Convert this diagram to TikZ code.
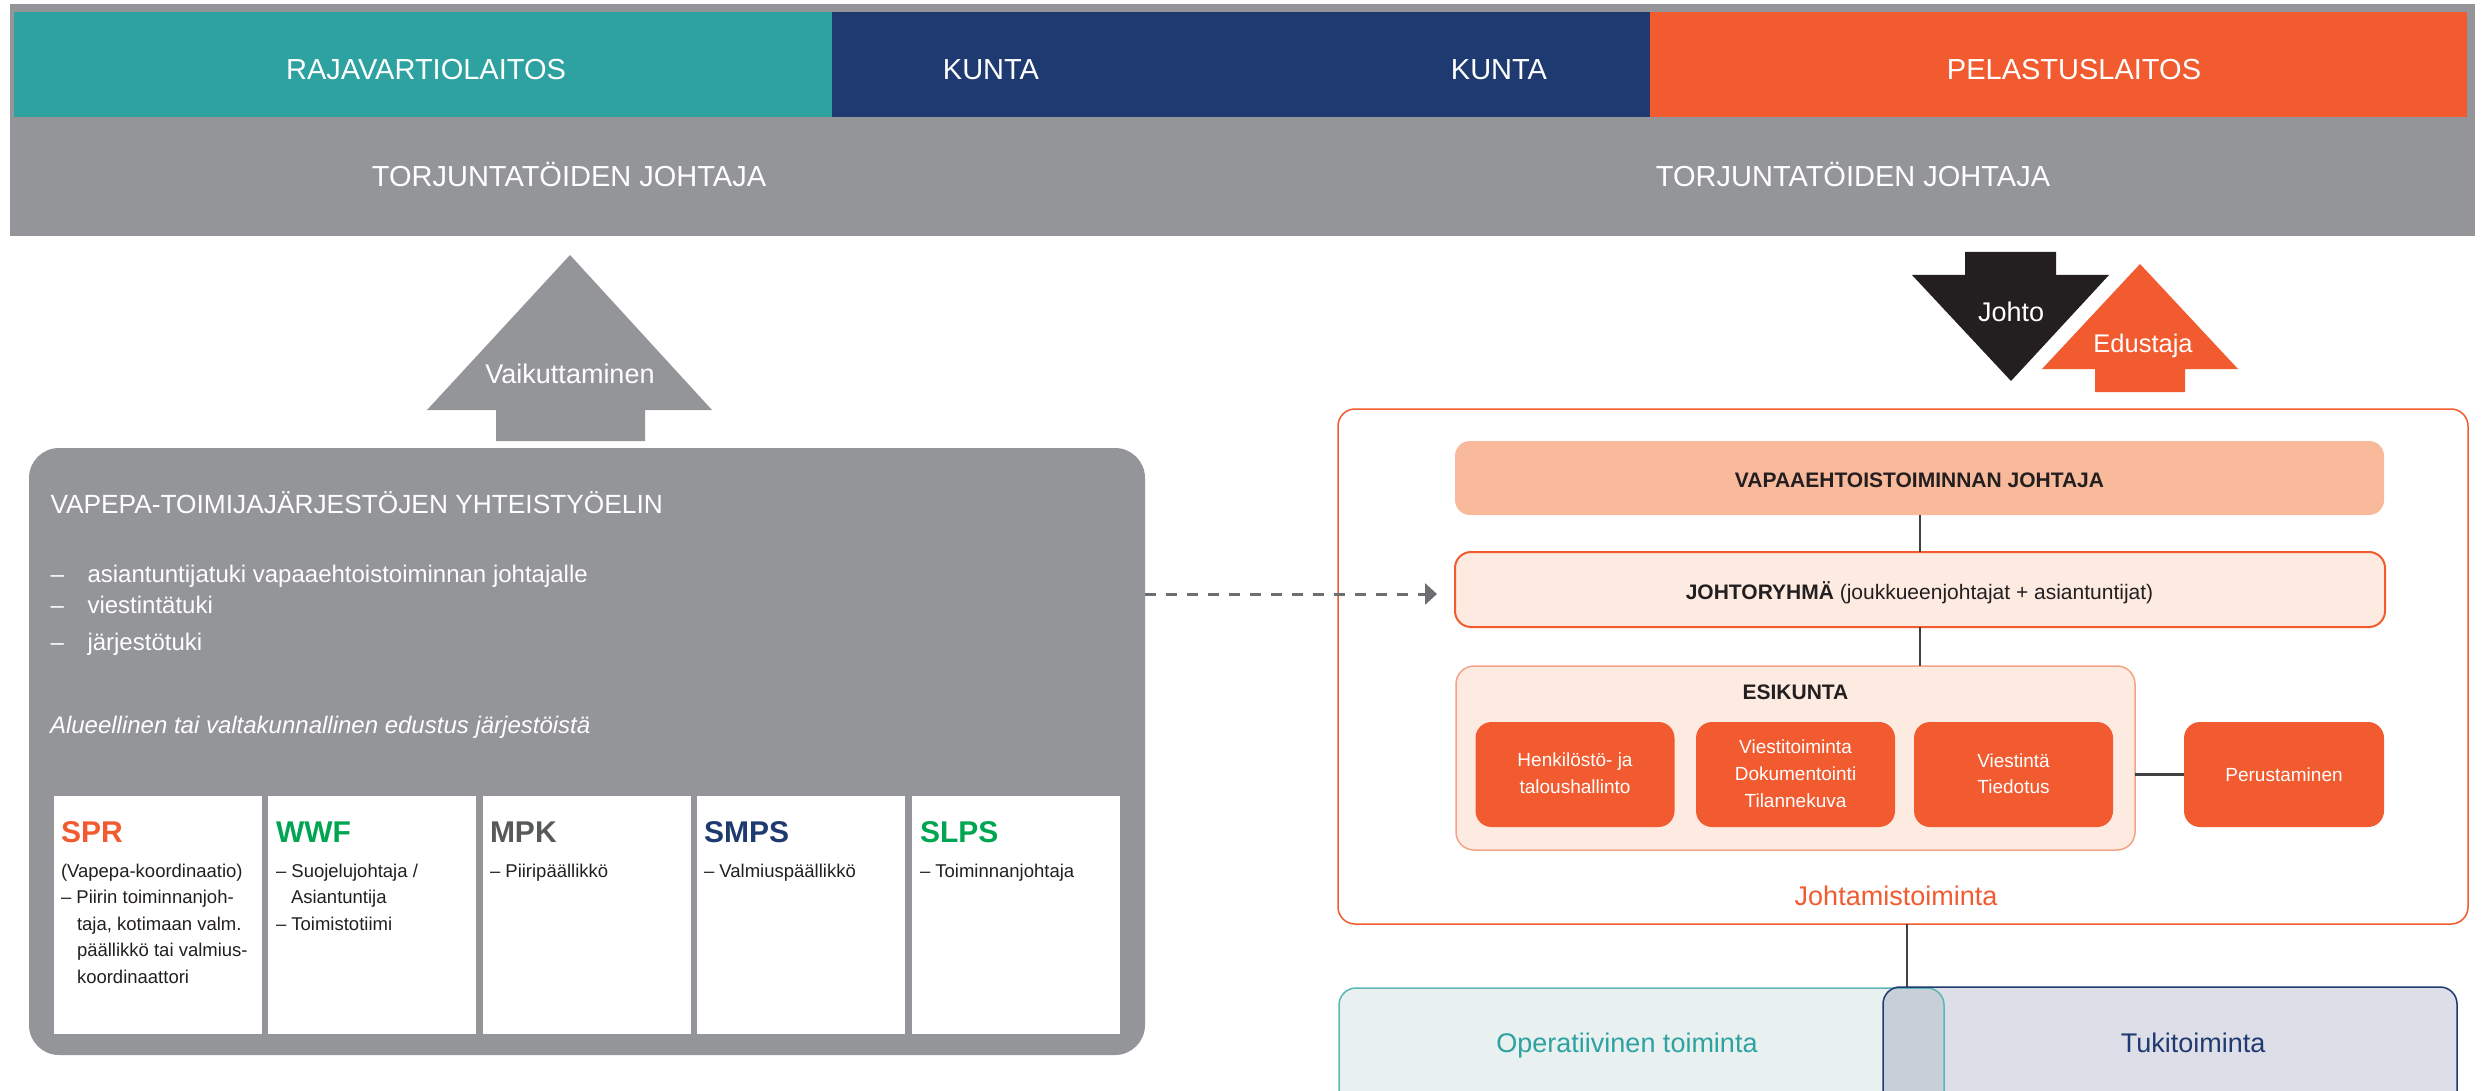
\documentclass[tikz,border=0pt]{standalone}
\usepackage{fontspec}
\setmainfont{Liberation Sans}
\usetikzlibrary{arrows.meta,calc}
\definecolor{cTeal}{HTML}{2EA1A1}
\definecolor{cBlue}{HTML}{1E3A70}
\definecolor{cOrange}{HTML}{F15B2F}
\definecolor{cGray}{HTML}{949599}
\definecolor{cBlack}{HTML}{231F20}
\definecolor{cPeach}{HTML}{F9B99B}
\definecolor{cLight}{HTML}{FDEBE1}
\definecolor{cOpFill}{HTML}{E8F1F0}
\definecolor{cOpLine}{HTML}{5CB6B4}
\definecolor{cTukiFill}{HTML}{DDDEE8}
\definecolor{cOverlap}{HTML}{C8CFD9}
\definecolor{cGreen}{HTML}{00A551}
\definecolor{cDark}{HTML}{58595B}
\definecolor{cDash}{HTML}{6D6E71}
\definecolor{cLine}{HTML}{414042}
\definecolor{cEsiLine}{HTML}{F4A486}
\newcommand\myfs[1]{\fontsize{#1}{#1}\selectfont}
\begin{document}
\begin{tikzpicture}[x=1pt,y=-1pt,
  every node/.style={inner sep=0pt,outer sep=0pt},
  ctxt/.style={anchor=base,text=white},
  ltxt/.style={anchor=base west,text=white},
  btxt/.style={anchor=base west,text=cBlack,font=\myfs{18.5}},
  ttl/.style={anchor=base west,font=\myfs{30}\bfseries},
  wbox/.style={fill=white,minimum width=208pt,minimum height=238pt},
  obox/.style={fill=cOrange,rounded corners=16pt,minimum width=199pt,minimum height=105pt},
  otxt/.style={anchor=base,text=white,font=\myfs{19}},
  conn/.style={draw=cLine,line width=1.5pt},
  dasharr/.style={draw=cDash,line width=3pt,dash pattern=on 11pt off 10pt,-{Triangle[length=12pt,width=21pt]}}
]
\useasboundingbox (0,0) rectangle (2491,1091);
\clip (0,0) rectangle (2491,1091);
\fill[white] (0,0) rectangle (2491,1091);

% top band
\node[fill=cGray,minimum width=2465pt,minimum height=232pt] (band) at (1242.5,120) {};
\node[fill=cTeal,minimum width=818pt,minimum height=105pt] (raja) at (423,64.5) {};
\node[fill=cBlue,minimum width=818pt,minimum height=105pt] (kunta) at (1241,64.5) {};
\node[fill=cOrange,minimum width=817pt,minimum height=105pt] (pela) at (2058.5,64.5) {};
\node[ctxt,font=\myfs{29}] (tRaja) at (426,79.5) {RAJAVARTIOLAITOS};
\node[ctxt,font=\myfs{29}] (tKunta1) at (991,79.5) {KUNTA};
\node[ctxt,font=\myfs{29}] (tKunta2) at (1499,79.5) {KUNTA};
\node[ctxt,font=\myfs{29}] (tPela) at (2074,79.5) {PELASTUSLAITOS};
\node[ctxt,font=\myfs{29}] (tTorj1) at (569,186.5) {TORJUNTATÖIDEN JOHTAJA};
\node[ctxt,font=\myfs{29}] (tTorj2) at (1853,186.5) {TORJUNTATÖIDEN JOHTAJA};

% Vaikuttaminen arrow
\fill[cGray] (570,255) -- (712,410) -- (645,410) -- (645,441) -- (496,441) -- (496,410) -- (427,410) -- cycle;
\node[ctxt,font=\myfs{27}] (tVaik) at (570,383) {Vaikuttaminen};

% Johto / Edustaja arrows
\fill[cBlack] (1965,252) -- (2056,252) -- (2056,275) -- (2109,275) -- (2011,381) -- (1912,275) -- (1965,275) -- cycle;
\node[ctxt,font=\myfs{27}] (tJohto) at (2011,321) {Johto};
\fill[cOrange] (2140,264) -- (2238,369) -- (2185,369) -- (2185,392) -- (2095,392) -- (2095,369) -- (2042,369) -- cycle;
\node[ctxt,font=\myfs{25.5}] (tEdus) at (2143,352) {Edustaja};

% VAPEPA box
\node[fill=cGray,rounded corners=30pt,minimum width=1116pt,minimum height=607pt] (vapepa) at (587,751.5) {};
\node[ltxt,font=\myfs{26.3}] (tVapepa) at (50.5,513.3) {VAPEPA-TOIMIJAJÄRJESTÖJEN YHTEISTYÖELIN};
\node[ltxt,font=\myfs{24}] (d1) at (50.5,582) {–};
\node[ltxt,font=\myfs{24}] (b1) at (87.5,582) {asiantuntijatuki vapaaehtoistoiminnan johtajalle};
\node[ltxt,font=\myfs{24}] (d2) at (50.5,613.3) {–};
\node[ltxt,font=\myfs{24}] (b2) at (87.5,613.3) {viestintätuki};
\node[ltxt,font=\myfs{24}] (d3) at (50.5,650.7) {–};
\node[ltxt,font=\myfs{24}] (b3) at (87.5,650.7) {järjestötuki};
\node[ltxt,font=\myfs{24}\itshape] (tAlue) at (50,733) {Alueellinen tai valtakunnallinen edustus järjestöistä};

% organisation boxes
\node[wbox] (bSPR) at (158,915) {};
\node[wbox] (bWWF) at (372,915) {};
\node[wbox] (bMPK) at (587,915) {};
\node[wbox] (bSMPS) at (801,915) {};
\node[wbox] (bSLPS) at (1016,915) {};
\node[ttl,text=cOrange] (tSPR) at (61,842) {SPR};
\node[ttl,text=cGreen] (tWWF) at (276,842) {WWF};
\node[ttl,text=cDark] (tMPK) at (490,842) {MPK};
\node[ttl,text=cBlue] (tSMPS) at (704,842) {SMPS};
\node[ttl,text=cGreen] (tSLPS) at (920,842) {SLPS};
\node[btxt] (s1) at (61,877) {(Vapepa-koordinaatio)};
\node[btxt] (s2) at (61,903.5) {– Piirin toiminnanjoh-};
\node[btxt] (s3) at (77,930) {taja, kotimaan valm.};
\node[btxt] (s4) at (77,956.5) {päällikkö tai valmius-};
\node[btxt] (s5) at (77,983) {koordinaattori};
\node[btxt] (w1) at (276,877) {– Suojelujohtaja /};
\node[btxt] (w2) at (291,903.5) {Asiantuntija};
\node[btxt] (w3) at (276,930) {– Toimistotiimi};
\node[btxt] (m1) at (490,877) {– Piiripäällikkö};
\node[btxt] (sm1) at (704,877) {– Valmiuspäällikkö};
\node[btxt] (sl1) at (920,877) {– Toiminnanjohtaja};

% Johtamistoiminta
\node[draw=cOrange,line width=1.5pt,rounded corners=17pt,minimum width=1130pt,minimum height=515pt] (outer) at (1903,666.5) {};
\node[fill=cPeach,rounded corners=15pt,minimum width=929pt,minimum height=74pt] (vapaa) at (1919.5,478) {};
\node[anchor=base,text=cBlack,font=\myfs{21}\bfseries] (tVapaa) at (1919.5,487) {VAPAAEHTOISTOIMINNAN JOHTAJA};
\node[fill=cLight,draw=cOrange,line width=2pt,rounded corners=16pt,minimum width=930pt,minimum height=75pt] (johto) at (1920,589.5) {};
\node[anchor=base,text=cBlack,font=\myfs{21}] (tJohtoR) at (1919.5,599) {\textbf{JOHTORYHMÄ} (joukkueenjohtajat + asiantuntijat)};
\node[fill=cLight,draw=cEsiLine,line width=1.5pt,rounded corners=18pt,minimum width=679pt,minimum height=184pt] (esik) at (1795.5,758) {};
\node[anchor=base,text=cBlack,font=\myfs{21}\bfseries] (tEsik) at (1795.5,699) {ESIKUNTA};
\node[obox] (henk) at (1575,774.5) {};
\node[obox] (viesti) at (1795.5,774.5) {};
\node[obox] (viestinta) at (2013.5,774.5) {};
\node[obox,minimum width=200pt] (perus) at (2284,774.5) {};
\node[otxt] (h1) at (1575,766) {Henkilöstö- ja};
\node[otxt] (h2) at (1575,793) {taloushallinto};
\node[otxt] (v1) at (1795.5,753) {Viestitoiminta};
\node[otxt] (v2) at (1795.5,780) {Dokumentointi};
\node[otxt] (v3) at (1795.5,807) {Tilannekuva};
\node[otxt] (vt1) at (2013.5,767) {Viestintä};
\node[otxt] (vt2) at (2013.5,793) {Tiedotus};
\node[otxt] (p1) at (2284,781) {Perustaminen};
\node[anchor=base,text=cOrange,font=\myfs{27}] (tJohtam) at (1896,905) {Johtamistoiminta};

\draw[conn] ([xshift=0.5pt]vapaa.south) -- ([xshift=0.5pt]vapaa.south |- johto.north);
\draw[conn] (johto.south) -- (johto.south |- esik.north);
\draw[conn,line width=2.2pt] (esik.east |- perus.west) -- (perus.west);

% dashed arrow
\coordinate (dashy) at (0,594);
\draw[dasharr] (vapepa.east |- dashy) -- ([xshift=-18pt]johto.west |- dashy);

% bottom boxes
\node[fill=cOpFill,minimum width=605pt,minimum height=152pt,rounded corners=17pt] (oper) at (1641.5,1064) {};
\node[fill=cTukiFill,minimum width=574pt,minimum height=153pt,rounded corners=17pt] (tuki) at (2170,1063.5) {};
\fill[cOverlap,rounded corners=17pt] (tuki.north west |- oper.north) rectangle (oper.south east);
\draw[cOpLine,line width=1.5pt,rounded corners=17pt] (oper.south west) rectangle (oper.north east);
\draw[cBlue,line width=1.5pt,rounded corners=17pt] (tuki.south west) rectangle (tuki.north east);
\node[anchor=base,text=cTeal,font=\myfs{27}] (tOper) at (1627,1052) {Operatiivinen toiminta};
\node[anchor=base,text=cBlue,font=\myfs{27}] (tTuki) at (2193,1052) {Tukitoiminta};
\draw[conn] ([xshift=4pt]outer.south) -- ([xshift=4pt]outer.south |- tuki.north);
\end{tikzpicture}
\end{document}
